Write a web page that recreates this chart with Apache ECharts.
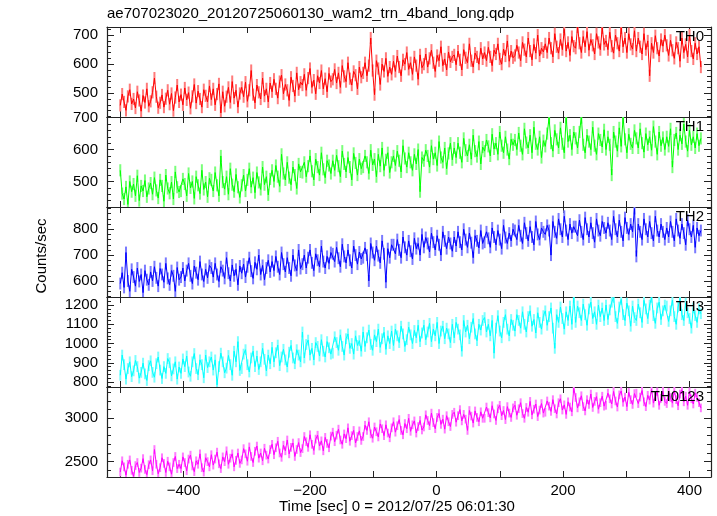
<!DOCTYPE html>
<html><head><meta charset="utf-8">
<script src="https://cdn.jsdelivr.net/npm/echarts@6/dist/echarts.min.js"></script>
<style>html,body{margin:0;padding:0;background:#fff}#c{width:717px;height:516px}</style>
</head><body><div id="c"></div>
<script>
const TITLE = 'ae707023020_20120725060130_wam2_trn_4band_long.qdp';
const X_NAME = 'Time [sec] 0 = 2012/07/25 06:01:30';
const Y_NAME = 'Counts/sec';
const T_START = -500, T_STEP = 3;
const X_MIN = -521, X_MAX = 434;
const bands = ['TH0', 'TH1', 'TH2', 'TH3', 'TH0123'];
const colors = ['#ff0000', '#00ff00', '#0000ff', '#00ffff', '#ff00ff'];
const lightColors = ['#ff7a7a', '#7aff7a', '#7a7aff', '#7affff', '#ff7aff'];
const errHalf = [21, 19, 23, 28, 50];
const yMin = [418, 420, 538, 774, 2323];
const yMax = [728, 702, 886, 1242, 3361];
const ySplit = [3, 3, 3, 5, 2];

const th0 = [
458,497,470,441,489,512,463,480,449,505,475,438,492,468,515,455,
472,503,552,488,450,467,494,452,481,510,462,499,440,485,528,470,
495,460,518,477,502,448,489,530,466,507,480,452,512,491,470,525,
478,515,460,497,532,432,505,455,488,520,468,540,483,510,452,499,
520,488,538,472,510,578,495,467,528,503,480,552,490,515,470,535,
505,548,515,483,540,562,498,530,510,475,555,525,490,570,512,538,
528,565,510,552,585,520,545,498,560,535,578,515,550,505,568,540,
548,582,535,570,520,595,558,540,605,550,528,575,562,515,590,555,
570,605,560,595,690,578,495,612,585,530,600,575,620,558,590,565,
610,575,628,590,560,615,600,640,582,605,565,625,595,548,632,588,
600,635,590,620,648,605,575,630,612,660,595,618,580,642,608,625,
632,598,645,615,580,650,622,605,670,612,590,638,625,600,655,618,
640,612,658,625,595,648,635,670,618,600,652,628,680,610,645,622,
630,665,640,612,675,650,625,690,645,615,668,638,700,628,655,642,
670,640,690,655,625,705,660,638,685,650,720,645,675,630,695,662,
655,728,672,640,695,660,712,648,685,665,635,705,675,650,725,668,
680,650,710,662,638,700,672,645,725,660,690,640,705,668,652,715,
645,690,660,635,705,650,680,560,672,640,698,655,628,685,662,700,
665,630,682,648,620,675,655,610,690,640,668,625,700,645,618,672,
635,660,590];

const th1 = [
535,462,445,483,428,500,468,492,455,518,440,486,470,503,452,478,
495,460,512,472,448,505,486,438,520,478,463,498,445,530,482,467,
470,508,492,455,525,480,500,447,515,488,462,535,475,498,452,510,
505,470,528,488,455,580,498,476,515,460,540,490,468,522,482,450,
488,520,470,505,540,482,512,465,528,497,475,545,490,515,458,508,
535,500,550,515,485,585,525,505,560,512,490,545,520,478,555,530,
528,560,515,548,580,532,505,570,545,520,590,538,512,565,550,525,
565,535,582,548,515,595,555,530,575,545,505,588,558,520,570,540,
545,580,560,525,598,552,570,515,585,548,605,535,568,590,528,560,
580,550,595,565,530,612,572,545,590,560,535,585,555,600,468,575,
565,598,580,545,612,570,590,550,625,575,560,605,540,588,620,568,
605,575,620,590,560,635,598,580,615,570,645,595,578,625,555,608,
595,630,610,580,648,602,620,585,655,612,590,640,600,570,632,615,
630,600,652,612,585,665,622,605,645,590,670,618,600,640,575,628,
610,650,700,620,595,660,632,605,668,618,590,700,625,645,600,655,
635,605,655,700,615,590,645,625,600,670,612,585,650,630,608,662,
600,640,615,520,655,625,595,668,610,700,632,590,648,618,605,660,
635,605,665,620,592,650,615,640,598,672,625,585,655,612,638,600,
640,610,665,545,630,652,600,645,618,680,625,595,660,615,640,605,
650,612,635];

const th2 = [
590,632,575,710,600,560,645,615,580,650,598,625,555,640,605,585,
635,600,655,612,580,648,625,595,668,610,585,640,620,560,652,605,
615,650,600,640,668,620,590,658,632,605,675,625,598,645,612,660,
650,615,668,625,598,655,640,610,690,630,600,662,620,645,585,658,
630,665,615,655,690,638,610,672,645,700,625,660,605,650,680,635,
675,640,695,655,625,710,665,635,690,650,620,700,660,640,720,648,
665,700,650,690,720,670,640,705,680,655,735,675,650,695,668,710,
705,675,730,688,655,742,695,670,720,680,650,735,700,665,712,685,
690,728,700,600,745,710,680,735,698,670,755,705,595,725,690,740,
740,705,760,720,690,770,730,700,755,715,685,765,725,745,700,780,
730,768,745,712,785,750,720,775,740,700,790,755,725,770,745,715,
770,735,790,750,720,800,760,730,785,748,690,775,755,728,795,745,
750,790,765,730,805,770,740,795,760,725,815,768,745,785,755,800,
795,760,815,775,745,825,785,755,810,770,740,830,780,760,805,790,
780,815,795,700,830,790,765,840,800,770,850,795,760,820,785,810,
810,775,835,790,760,845,800,770,825,785,750,840,795,775,830,805,
785,825,795,760,850,800,770,835,790,755,845,805,780,820,790,880,
695,820,790,760,840,800,770,830,785,755,850,795,770,820,790,760,
805,770,830,790,755,840,795,765,820,785,740,835,800,770,815,730,
805,775,795];

const th3 = [
835,940,890,815,870,905,828,858,912,880,820,850,898,842,808,885,
910,850,825,895,930,862,818,880,845,922,900,832,868,905,815,878,
845,920,880,935,852,830,905,948,870,838,915,890,822,940,875,905,
930,862,915,785,880,950,905,848,872,938,890,835,960,905,1010,860,
870,945,968,890,852,925,960,880,935,865,905,975,918,858,940,895,
980,905,952,992,885,930,970,915,878,955,990,925,895,968,940,905,
1060,925,995,1018,940,975,915,1005,985,935,1020,960,930,1010,978,945,
950,1035,1005,965,1045,985,940,1025,1050,975,1000,945,1040,990,1015,960,
1060,985,1030,1070,995,965,1045,1010,1075,980,1025,1058,970,1040,1000,1065,
990,1075,1040,1005,1090,1050,985,1020,1085,1045,1000,1068,1030,1095,1010,1055,
1095,1020,1060,1105,1010,1075,1040,1110,1000,1065,1090,1025,1080,1050,1005,1100,
1030,1110,1075,1045,960,1120,1060,1095,1025,1085,1130,1050,1015,1100,1070,1120,
1135,1060,1100,1040,1120,950,1080,1145,1065,1030,1110,1150,1075,1040,1125,1095,
1065,1150,1120,1080,1165,1100,1060,1140,1170,1090,1125,1055,1160,1110,1075,1145,
1170,1095,1140,1185,1080,975,1150,1110,1190,1130,1075,1165,1120,1195,1100,1240,
1110,1195,1160,1120,1205,1150,1095,1180,1215,1130,1165,1100,1200,1140,1185,1120,
1200,1125,1175,1215,1240,1140,1105,1190,1230,1150,1120,1210,1170,1090,1195,1135,
1120,1205,1160,1110,1225,1180,1130,1200,1240,1145,1105,1185,1215,1125,1170,1200,
1195,1115,1170,1225,1140,1100,1190,1235,1150,1120,1210,1160,1130,1080,1185,1145,
1110,1180,1155];

const th0123 = [
2380,2510,2440,2345,2470,2520,2400,2330,2455,2490,2375,2425,2535,2410,2350,2465,
2520,2395,2640,2470,2360,2430,2545,2480,2375,2505,2440,2355,2490,2560,2420,2470,
2420,2555,2490,2395,2530,2575,2450,2385,2510,2470,2590,2430,2380,2545,2500,2440,
2580,2460,2530,2610,2475,2420,2555,2500,2625,2470,2540,2590,2440,2515,2600,2480,
2520,2650,2590,2505,2670,2560,2490,2620,2680,2540,2600,2510,2655,2575,2530,2640,
2700,2580,2660,2735,2600,2550,2690,2625,2750,2590,2665,2715,2560,2640,2720,2605,
2650,2790,2730,2665,2810,2700,2630,2760,2805,2680,2740,2625,2780,2710,2660,2795,
2840,2730,2805,2875,2750,2700,2820,2765,2890,2735,2800,2860,2715,2790,2855,2745,
2790,2920,2860,2960,2820,2770,2900,2845,2785,2935,2880,2800,2925,2830,2775,2890,
2960,2840,2915,2985,2860,2810,2940,2880,3000,2850,2925,2970,2830,2905,2975,2865,
2900,3040,2975,2915,3060,2950,2880,3010,3055,2930,2990,2875,3030,2960,2905,3045,
3070,2955,3030,3100,2970,3045,2990,2860,3090,3025,2945,3085,3010,2960,3075,3000,
3000,3130,3065,3005,3145,3050,2975,3110,3150,3030,3090,2985,3135,3060,3010,3120,
3150,3035,3110,3180,3055,3000,3125,3070,3195,3040,3105,3165,3020,3095,3170,3060,
3070,3200,3140,3080,3215,3110,3050,3180,3225,3095,3155,3045,3190,3130,3075,3345,
3240,3120,3190,3260,3135,3085,3215,3160,3280,3125,3195,3250,3105,3180,3255,3140,
3150,3290,3225,3165,3310,3200,3130,3270,3315,3185,3245,3135,3300,3215,3160,3285,
3290,3170,3245,3320,3190,3135,3265,3210,3335,3175,3250,3305,3150,3230,3310,3195,
3170,3300,3240,3175,3320,3215,3145,3280,3330,3190,3255,3150,3305,3225,3165,3290,
3240,3180,3120];

const seriesValues = [th0, th1, th2, th3, th0123];

const FONT = 'Liberation Sans, Arial, Helvetica, sans-serif';
const GRID_LEFT = 107, GRID_RIGHT = 6, GRID_TOP0 = 27, GRID_H = 90;
const AXIS_COLOR = '#222';

const grids = [], xAxes = [], yAxes = [], series = [], graphics = [];
const minus = v => String(v).replace('-', '\u2212');
const plain = v => String(v);

for (let i = 0; i < bands.length; i++) {
  grids.push({left: GRID_LEFT, right: GRID_RIGHT, top: GRID_TOP0 + i * GRID_H, height: GRID_H, containLabel: false});
  const last = i === bands.length - 1;
  const xBase = {
    type: 'value', gridIndex: i, min: X_MIN, max: X_MAX, splitNumber: 5,
    axisLine: {show: true, onZero: false, lineStyle: {color: AXIS_COLOR, width: 1.2}},
    axisTick: {show: true, inside: true, length: 6, lineStyle: {color: AXIS_COLOR, width: 1}},
    minorTick: {show: true, splitNumber: 2, length: 6, lineStyle: {color: AXIS_COLOR, width: 1}},
    splitLine: {show: false}
  };
  xAxes.push(Object.assign({}, xBase, {
    position: 'bottom',
    axisLabel: {show: last, showMinLabel: false, showMaxLabel: false, color: '#000', fontSize: 15, fontFamily: FONT, margin: 6, formatter: minus}
  }));
  xAxes.push(Object.assign({}, xBase, {position: 'top', axisLabel: {show: false}}));
  const yBase = {
    type: 'value', gridIndex: i, min: yMin[i], max: yMax[i], splitNumber: ySplit[i],
    axisLine: {show: true, onZero: false, lineStyle: {color: AXIS_COLOR, width: 1.2}},
    axisTick: {show: true, inside: true, length: 7, lineStyle: {color: AXIS_COLOR, width: 1}},
    minorTick: {show: true, splitNumber: 5, length: 4, lineStyle: {color: AXIS_COLOR, width: 1}},
    splitLine: {show: false}
  };
  yAxes.push(Object.assign({}, yBase, {
    position: 'left',
    axisLabel: {show: true, showMinLabel: false, showMaxLabel: false, color: '#000', fontSize: 15, fontFamily: FONT, margin: 9, formatter: plain}
  }));
  yAxes.push(Object.assign({}, yBase, {position: 'right', axisLabel: {show: false}}));

  const data = seriesValues[i].map((v, k) => [T_START + k * T_STEP, v]);
  const e = errHalf[i];
  const lc = lightColors[i];
  series.push({
    type: 'custom', xAxisIndex: 2 * i, yAxisIndex: 2 * i, data: data, clip: true, silent: true, z: 2,
    renderItem: function (params, api) {
      const t = api.value(0), v = api.value(1);
      const p1 = api.coord([t, v - e]);
      const p2 = api.coord([t, v + e]);
      return {type: 'line', shape: {x1: p1[0], y1: p1[1], x2: p2[0], y2: p2[1]},
        style: {stroke: lc, lineWidth: 2}};
    }
  });
  series.push({
    type: 'line', xAxisIndex: 2 * i, yAxisIndex: 2 * i, data: data, symbol: 'none',
    lineStyle: {color: colors[i], width: 1}, silent: true, z: 3
  });
  graphics.push({
    type: 'text', right: 13, top: GRID_TOP0 + i * GRID_H + 2, z: 10,
    style: {text: bands[i], fill: '#000', font: '15px ' + FONT, textAlign: 'right'}
  });
}

graphics.push({type: 'text', left: 107, top: 6, style: {text: TITLE, fill: '#000', font: '15px ' + FONT}});
graphics.push({type: 'text', left: 279, top: 499, style: {text: X_NAME, fill: '#000', font: '15px ' + FONT}});
graphics.push({type: 'text', x: 42, y: 256, rotation: Math.PI / 2, style: {text: Y_NAME, fill: '#000', font: '15px ' + FONT, textAlign: 'center', textVerticalAlign: 'middle'}});

const chart = echarts.init(document.getElementById('c'), null, {renderer: 'canvas'});
chart.setOption({
  animation: false,
  backgroundColor: '#fff',
  grid: grids, xAxis: xAxes, yAxis: yAxes, series: series, graphic: graphics
});
</script></body></html>
